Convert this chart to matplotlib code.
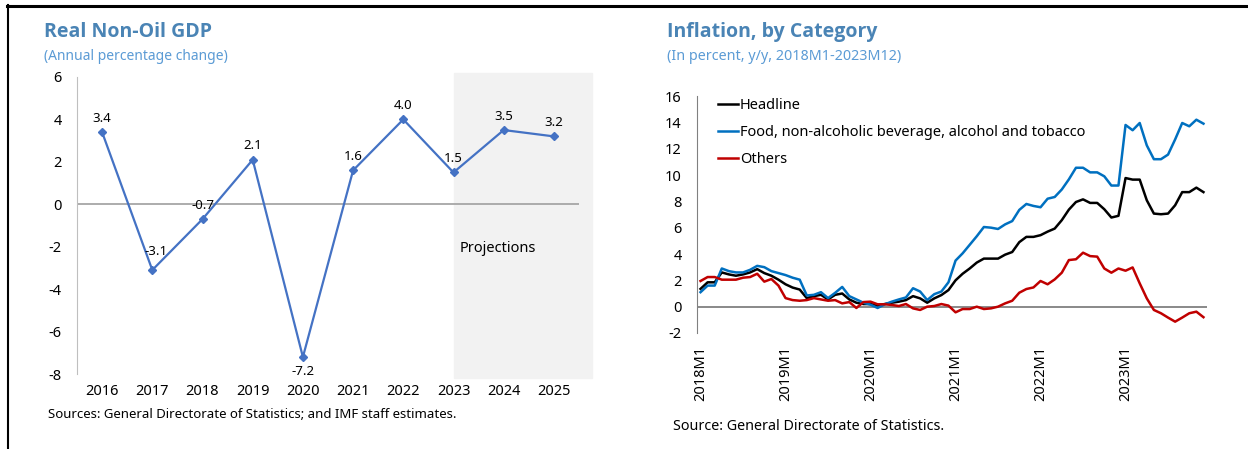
import matplotlib.pyplot as plt
from matplotlib.lines import Line2D

plt.rcParams['font.family'] = ['Noto Sans', 'DejaVu Sans']
plt.rcParams['axes.unicode_minus'] = False

# left panel: real non-oil GDP
years = ['2016', '2017', '2018', '2019', '2020', '2021', '2022', '2023', '2024', '2025']
gdp = [3.4, -3.1, -0.7, 2.1, -7.2, 1.6, 4.0, 1.5, 3.5, 3.2]
proj_start = '2023'

# right panel: inflation by category, 2018M1-2023M12
months = [f'{y}M{m}' for y in range(2018, 2024) for m in range(1, 13)]
headline = [1.35, 1.85, 1.85, 2.6, 2.45, 2.35, 2.45, 2.6, 2.85, 2.55, 2.35, 2.05,
            1.7, 1.45, 1.3, 0.65, 0.8, 0.9, 0.55, 0.9, 1.0, 0.55, 0.3, 0.2,
            0.2, 0.1, 0.2, 0.3, 0.38, 0.5, 0.8, 0.63, 0.3, 0.63, 0.88, 1.26,
            2.0, 2.5, 2.9, 3.35, 3.65, 3.65, 3.65, 3.95, 4.15, 4.9, 5.3, 5.3,
            5.43, 5.7, 5.93, 6.57, 7.37, 7.95, 8.15, 7.88, 7.88, 7.4, 6.77, 6.9,
            9.77, 9.65, 9.65, 8.08, 7.07, 7.02, 7.07, 7.7, 8.7, 8.7, 9.04, 8.7]
food = [1.1, 1.6, 1.6, 2.9, 2.7, 2.6, 2.6, 2.8, 3.1, 3.0, 2.7, 2.55,
        2.4, 2.2, 2.05, 0.85, 0.9, 1.1, 0.65, 1.05, 1.5, 0.8, 0.55, 0.3,
        0.15, -0.1, 0.18, 0.38, 0.55, 0.7, 1.4, 1.15, 0.5, 0.95, 1.15, 1.85,
        3.5, 4.05, 4.7, 5.35, 6.05, 6.0, 5.9, 6.25, 6.5, 7.35, 7.8, 7.65,
        7.55, 8.2, 8.33, 8.9, 9.67, 10.55, 10.55, 10.2, 10.2, 9.9, 9.2, 9.2,
        13.8, 13.4, 13.95, 12.25, 11.2, 11.2, 11.55, 12.7, 13.95, 13.7, 14.2, 13.9]
others = [1.95, 2.25, 2.25, 2.05, 2.05, 2.05, 2.2, 2.25, 2.5, 1.9, 2.1, 1.6,
          0.65, 0.5, 0.45, 0.5, 0.65, 0.55, 0.45, 0.5, 0.25, 0.35, -0.1, 0.35,
          0.38, 0.18, 0.18, 0.13, 0.05, 0.2, -0.13, -0.25, 0.0, 0.05, 0.2, 0.08,
          -0.43, -0.18, -0.18, 0.0, -0.18, -0.13, 0.0, 0.25, 0.45, 1.06, 1.34, 1.46,
          1.95, 1.7, 2.07, 2.58, 3.54, 3.6, 4.1, 3.84, 3.8, 2.9, 2.58, 2.9,
          2.73, 2.98, 1.77, 0.63, -0.25, -0.5, -0.83, -1.14, -0.83, -0.5, -0.38, -0.8]

title_col = '#4A84B5'
sub_col = '#5B9BD5'
title_font = ['Open Sans', 'DejaVu Sans']

W, H = 1248, 449
fig = plt.figure(figsize=(W / 100, H / 100), dpi=100)

def box(l, t, r, b):
    return [l / W, 1 - b / H, (r - l) / W, (b - t) / H]

# ---- left chart ----
ax1 = fig.add_axes(box(77, 77, 579, 374))
x1 = list(range(len(years)))
ax1.plot(x1, gdp, color='#4472C4', lw=1.6, marker='D', ms=4.5)
ax1.set_xlim(-0.5, 9.5)
ax1.set_ylim(-8, 6)
ax1.set_yticks(range(-8, 7, 2))
ax1.set_xticks(x1)
ax1.set_xticklabels(years)
ax1.axhline(0, color='#A6A6A6', lw=1.3, zorder=1)
p0 = years.index(proj_start)
ax1.axvspan(p0, 9.76, ymin=-0.012, ymax=1.015, color='#F2F2F2', zorder=0, clip_on=False)
ax1.text(p0 + 0.12, -2.1, 'Projections', fontsize=10.5, va='center', ha='left')
for i, v in enumerate(gdp):
    if v == -7.2:
        off = (0, -14)
    elif v == -3.1:
        off = (4, 19)
    else:
        off = (0, 14)
    ax1.annotate(f'{v:.1f}', (i, v), textcoords='offset pixels', xytext=off,
                 ha='center', va='center', fontsize=9.5)
for s in ['top', 'right', 'bottom']:
    ax1.spines[s].set_visible(False)
ax1.spines['left'].set_color('#BFBFBF')
ax1.tick_params(length=0, labelsize=10.5)
ax1.tick_params(axis='y', pad=11)
ax1.tick_params(axis='x', pad=7)

fig.text(44 / W, 1 - 32 / H, 'Real Non-Oil GDP', fontsize=14, fontweight='bold',
         family=title_font, color=title_col, va='center')
fig.text(44 / W, 1 - 56 / H, '(Annual percentage change)', fontsize=10,
         color=sub_col, va='center')
fig.text(48 / W, 1 - 414 / H, 'Sources: General Directorate of Statistics; and IMF staff estimates.',
         fontsize=9.5, va='center')

# ---- right chart ----
ax2 = fig.add_axes(box(697, 96, 1207, 333))
x2 = list(range(len(months)))
ax2.plot(x2, headline, color='black', lw=1.8, label='Headline')
ax2.plot(x2, food, color='#0070C0', lw=1.8,
         label='Food, non-alcoholic beverage, alcohol and tobacco')
ax2.plot(x2, others, color='#C00000', lw=1.8, label='Others')
ax2.axhline(0, color='#808080', lw=1.3, zorder=1)
ax2.set_xlim(-0.5, 71.5)
ax2.set_ylim(-2, 16)
ax2.set_yticks(range(-2, 17, 2))
ax2.set_xticks(x2[::12])
ax2.set_xticklabels(months[::12], rotation=90)
for s in ['top', 'right', 'bottom']:
    ax2.spines[s].set_visible(False)
ax2.spines['left'].set_color('#808080')
ax2.tick_params(length=0, labelsize=10.5)
ax2.tick_params(axis='y', pad=11)
ax2.tick_params(axis='x', pad=9)
ax2.legend(loc='upper left', bbox_to_anchor=(0.041, 0.99), frameon=False, fontsize=10.5,
           handlelength=1.4, handletextpad=0.1, labelspacing=0.8, borderpad=0,
           borderaxespad=0)

fig.text(667 / W, 1 - 32 / H, 'Inflation, by Category', fontsize=14, fontweight='bold',
         family=title_font, color=title_col, va='center')
fig.text(667 / W, 1 - 57 / H, '(In percent, y/y, 2018M1-2023M12)', fontsize=10.3,
         color=sub_col, va='center')
fig.text(673 / W, 1 - 427 / H, 'Source: General Directorate of Statistics.',
         fontsize=10.3, va='center')

# frame lines
fig.add_artist(Line2D([7 / W, 1], [1 - 5.5 / H, 1 - 5.5 / H], color='black', lw=2.2))
fig.add_artist(Line2D([7.5 / W, 7.5 / W], [0, 1 - 5 / H], color='black', lw=1.5))

fig.savefig('out.png', dpi=100)
